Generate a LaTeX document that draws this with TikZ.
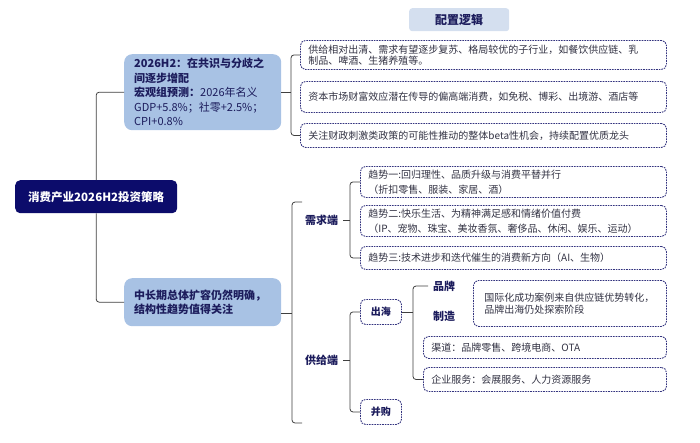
\documentclass[tikz,border=0pt]{standalone}
\usepackage{fontspec}
\setmainfont{Noto Sans CJK SC}
\usepackage{xcolor}
\usepackage{tikz}
\usetikzlibrary{positioning, calc}

\definecolor{navy}{HTML}{0C0C6B}
\definecolor{lightblue}{HTML}{A8C2E4}
\definecolor{headblue}{HTML}{D4DFEF}
\definecolor{dashblue}{HTML}{34347F}
\definecolor{inktxt}{HTML}{333344}
\definecolor{labnavy}{HTML}{1C1C5C}
\definecolor{brkgray}{HTML}{3F3F3F}

\begin{document}
\begin{tikzpicture}[
  x=1pt, y=-1pt,
  font=\fontsize{10}{13}\selectfont,
  root/.style={fill=navy, text=white, rounded corners=5pt,
    font=\fontsize{11.5}{14}\selectfont\bfseries, anchor=north west,
    minimum width=162pt, minimum height=33pt, inner sep=0pt},
  lbox/.style={fill=lightblue, text=labnavy, rounded corners=8pt, align=left,
    anchor=north west, minimum width=157pt, text width=137pt,
    inner xsep=10pt, inner ysep=0pt},
  head/.style={fill=headblue, text=labnavy, rounded corners=3pt,
    font=\fontsize{12}{14}\selectfont\bfseries, anchor=north west,
    minimum width=100pt, minimum height=23pt, inner sep=0pt},
  dbox/.style={draw=dashblue, dash pattern=on 1.6pt off 1pt, line width=0.9pt,
    rounded corners=5pt, fill=white, text=inktxt, align=left,
    anchor=north west, inner xsep=8pt, inner ysep=0pt},
  sbox/.style={dbox, text=labnavy, align=center, inner sep=0pt,
    minimum width=41pt, minimum height=25pt,
    font=\fontsize{10}{12}\selectfont\bfseries},
  tag/.style={text=labnavy, font=\fontsize{11}{13}\selectfont\bfseries,
    inner xsep=5pt, inner ysep=1pt, anchor=west},
  brk/.style={draw=brkgray, line width=0.8pt, rounded corners=3pt},
]
  \useasboundingbox (0,0) rectangle (700,442);

  % Root and first level
  \node[root] (root) at (15,180) {消费产业2026H2投资策略};
  \node[lbox, minimum height=76pt, font=\fontsize{11}{14.5}\selectfont] (macro) at (124,54)
    {\textbf{2026H2：在共识与分歧之}\\\textbf{间逐步增配}\\\textbf{宏观组预测：}2026年名义\\GDP+5.8\%；社零+2.5\%；\\CPI+0.8\%};
  \node[lbox, minimum height=48pt, font=\fontsize{11}{13.5}\selectfont\bfseries] (trend) at (124,278)
    {中长期总体扩容仍然明确，\\结构性趋势值得关注};
  \draw[brk] (macro.west) -| (root.north);
  \draw[brk] (trend.west) -| (root.south);

  % Allocation logic
  \node[head] (logic) at (409,8) {配置逻辑};
  \foreach \n/\y/\h/\t in {%
    cfg1/40/29/{供给相对出清、需求有望逐步复苏、格局较优的子行业，如餐饮供应链、乳\\制品、啤酒、生猪养殖等。},%
    cfg2/81/31/{资本市场财富效应潜在传导的偏高端消费，如免税、博彩、出境游、酒店等},%
    cfg3/123/24/{关注财政刺激类政策的可能性推动的整体beta性机会，持续配置优质龙头}%
  }{
    \node[dbox, minimum width=366pt, text width=350pt, minimum height=\h pt,
      font=\fontsize{10}{11.5}\selectfont] (\n) at (300,\y) {\t};
  }
  \coordinate (bA) at (291,0);
  \draw[brk] (cfg1.west) -| (bA |- cfg3.west) -- (cfg3.west);
  \draw[brk] (macro.east) -- (bA |- macro.east);

  % Long-term bracket
  \coordinate (bB) at (292,0);
  \coordinate (dTop) at (302,202);
  \coordinate (sBot) at (302,423);
  \coordinate (tOut) at ([yshift=-11pt]trend.east);
  \draw[brk] (dTop) -| (bB |- sBot) -- (sBot);
  \draw[brk] (tOut) -- (bB |- tOut);

  \node[tag] (demand) at (300,220) {需求端};
  \node[tag] (supply) at (300,360) {供给端};

  % Demand side trends
  \foreach \n/\y/\h/\t in {%
    t1/166/31/{趋势一:回归理性、品质升级与消费平替并行\\（折扣零售、服装、家居、酒）},%
    t2/205/31/{趋势二:快乐生活、为精神满足感和情绪价值付费\\（IP、宠物、珠宝、美妆香氛、奢侈品、休闲、娱乐、运动）},%
    t3/246/23/{趋势三:技术进步和迭代催生的消费新方向（AI、生物）}%
  }{
    \node[dbox, minimum width=306pt, text width=290pt, minimum height=\h pt,
      font=\fontsize{10}{15}\selectfont] (\n) at (360,\y) {\t};
  }
  \coordinate (bD) at (350,0);
  \draw[brk] (t1.west) -| (bD |- t3.west) -- (t3.west);
  \draw[brk] (demand.east) -- (bD |- demand.east);

  % Supply side
  \node[sbox] (overseas) at (360,299) {出海};
  \node[sbox] (mna) at (360,399) {并购};
  \coordinate (bS) at (350,0);
  \draw[brk] (overseas.west) -| (bS |- mna.west) -- (mna.west);
  \draw[brk] (supply.east) -- (bS |- supply.east);

  \node[tag] (brand) at (428,286) {品牌};
  \node[tag] (manuf) at (428,316) {制造};
  \node[dbox, minimum width=193pt, text width=171pt, inner xsep=11pt, minimum height=46pt,
    font=\fontsize{10}{12}\selectfont] (brandbox) at (473,280)
    {国际化成功案例来自供应链优势转化，\\品牌出海仍处探索阶段};
  \node[dbox, minimum width=243pt, text width=227pt, minimum height=22pt] (channel) at (423,336)
    {渠道：品牌零售、跨境电商、OTA};
  \node[dbox, minimum width=243pt, text width=227pt, minimum height=24pt] (service) at (423,367)
    {企业服务：会展服务、人力资源服务};
  \coordinate (bO) at (413,0);
  \draw[brk] (brand.west) -| (bO |- service.west) -- (service.west);
  \draw[brk] (overseas.east) -- (bO |- overseas.east);
\end{tikzpicture}
\end{document}
